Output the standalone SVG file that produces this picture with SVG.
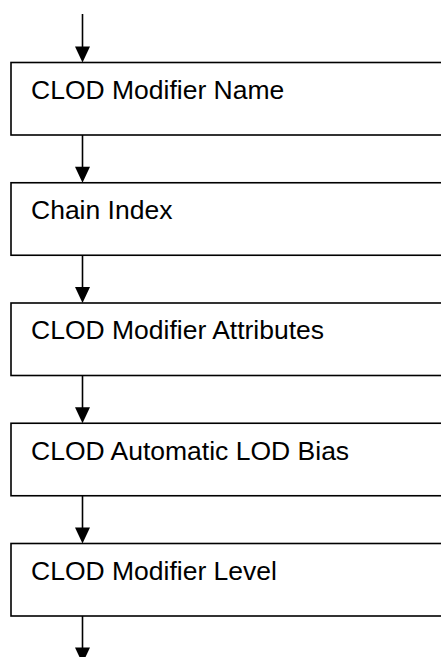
<svg xmlns="http://www.w3.org/2000/svg" width="441" height="657" viewBox="0 0 441 657">
<defs>
<style>
.box{fill:#fff;stroke:#000;stroke-width:1.6}
.lbl{font-family:"Liberation Sans",Arial,sans-serif;font-size:26.5px;fill:#000}
.conn line{stroke:#000;stroke-width:1.6}
.conn polygon{fill:#000}
</style>
</defs>
<rect width="441" height="657" fill="#fff"/>
<g id="connectors" class="conn">
<line x1="82.5" y1="14" x2="82.5" y2="48"/><polygon points="75,46.5 90,46.5 82.5,62.5"/>
<line x1="82.5" y1="135" x2="82.5" y2="168"/><polygon points="75,166.75 90,166.75 82.5,182.75"/>
<line x1="82.5" y1="255" x2="82.5" y2="289"/><polygon points="75,287 90,287 82.5,303"/>
<line x1="82.5" y1="375.5" x2="82.5" y2="409"/><polygon points="75,407.25 90,407.25 82.5,423.25"/>
<line x1="82.5" y1="496" x2="82.5" y2="529"/><polygon points="75,527.5 90,527.5 82.5,543.5"/>
<line x1="82.5" y1="616" x2="82.5" y2="649"/><polygon points="75,647.5 90,647.5 82.5,663.5"/>
</g>
<g id="node1"><rect class="box" x="11" y="62.5" width="450" height="72.5"/><text class="lbl" x="31" y="98.8">CLOD Modifier Name</text></g>
<g id="node2"><rect class="box" x="11" y="182.75" width="450" height="72.5"/><text class="lbl" x="31" y="219">Chain Index</text></g>
<g id="node3"><rect class="box" x="11" y="303" width="450" height="72.5"/><text class="lbl" x="31" y="339.3">CLOD Modifier Attributes</text></g>
<g id="node4"><rect class="box" x="11" y="423.25" width="450" height="72.5"/><text class="lbl" x="31" y="459.5">CLOD Automatic LOD Bias</text></g>
<g id="node5"><rect class="box" x="11" y="543.5" width="450" height="72.5"/><text class="lbl" x="31" y="579.8">CLOD Modifier Level</text></g>
</svg>
